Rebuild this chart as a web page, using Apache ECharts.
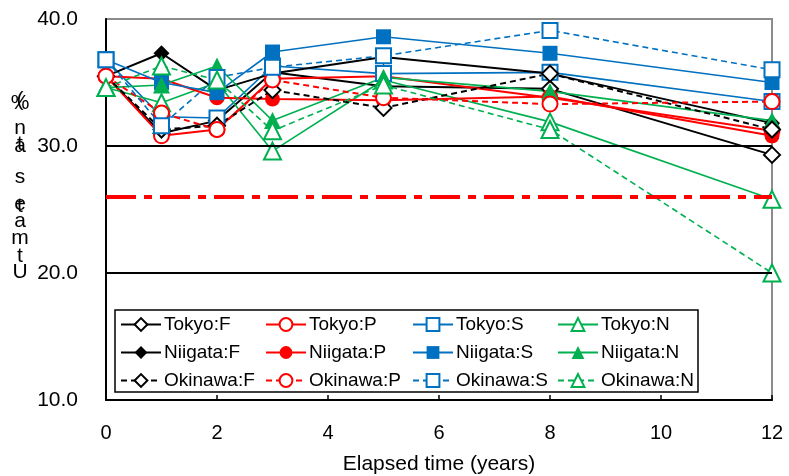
<!DOCTYPE html>
<html>
<head>
<meta charset="utf-8">
<script src="https://cdn.jsdelivr.net/npm/echarts@6/dist/echarts.min.js"></script>
<style>html,body{margin:0;padding:0;background:#fff;}#c{width:789px;height:476px;}</style>
</head>
<body>
<div id="c"></div>
<script>
// ---- data ----
const xYears = [0, 1, 2, 3, 5, 8, 12];
const tokyoF   = [35.5, 31.0, 32.0, 35.8, 34.7, 34.5, 29.3];
const niigataF = [35.5, 37.3, 34.4, 35.7, 37.0, 35.7, 31.8];
const okinawaF = [35.5, 31.3, 31.6, 34.4, 33.0, 35.7, 31.3];
const tokyoP   = [35.5, 30.8, 31.3, 35.3, 35.5, 33.8, 31.2];
const niigataP = [35.5, 35.3, 33.8, 33.7, 33.6, 33.9, 30.8];
const okinawaP = [35.5, 32.6, 31.3, 35.2, 33.8, 33.3, 33.5];
const tokyoS   = [36.8, 32.3, 32.2, 36.3, 35.7, 35.8, 33.5];
const niigataS = [36.8, 35.0, 34.2, 37.4, 38.6, 37.3, 35.0];
const okinawaS = [36.8, 31.6, 35.4, 36.2, 37.1, 39.1, 36.0];
const tokyoN   = [34.6, 33.4, 35.0, 29.6, 35.2, 31.9, 25.8];
const niigataN = [34.6, 34.8, 36.3, 32.0, 35.4, 34.3, 32.0];
const okinawaN = [34.6, 36.3, 35.2, 31.2, 34.8, 31.3, 20.0];
const refLevel = 26.0;
const gridValues = [20, 30];
const yTicks = [10, 20, 30, 40];
const xTicks = [0, 2, 4, 6, 8, 10, 12];
const xAxisTitle = 'Elapsed time (years)';
const yTitleChars = [['(', 100], ['%', 103], ['n', 128], ['t', 144], ['a', 146], ['s', 177], ['t', 206], ['e', 204], ['a', 221], ['m', 238], ['t', 256], ['U', 272]];

// ---- styling ----
const colors = { F: '#000000', P: '#FF0000', S: '#0070C0', N: '#00B050' };
const symbols = { F: 'diamond', P: 'circle', S: 'rect', N: 'triangle' };
const symSize = { F: 16, P: 15, S: 15, N: 17 };
const widths = { F: 2, P: 2, S: 1.6, N: 1.6 };

const defs = [
  ['Tokyo:F', tokyoF, 'F', 'open'], ['Tokyo:P', tokyoP, 'P', 'open'], ['Tokyo:S', tokyoS, 'S', 'open'], ['Tokyo:N', tokyoN, 'N', 'open'],
  ['Niigata:F', niigataF, 'F', 'fill'], ['Niigata:P', niigataP, 'P', 'fill'], ['Niigata:S', niigataS, 'S', 'fill'], ['Niigata:N', niigataN, 'N', 'fill'],
  ['Okinawa:F', okinawaF, 'F', 'dash'], ['Okinawa:P', okinawaP, 'P', 'dash'], ['Okinawa:S', okinawaS, 'S', 'dash'], ['Okinawa:N', okinawaN, 'N', 'dash']
];

const series = defs.map(([name, vals, k, kind]) => ({
  name, type: 'line',
  data: xYears.map((x, i) => [x, vals[i]]),
  symbol: (kind === 'fill' ? '' : 'empty') + symbols[k],
  symbolSize: symSize[k],
  showAllSymbol: true,
  clip: false,
  color: colors[k],
  itemStyle: { color: colors[k], borderWidth: 2 },
  lineStyle: { color: colors[k], width: widths[k], type: kind === 'dash' ? [6, 4] : 'solid' },
  emphasis: { disabled: true },
  animation: false
}));

// gridlines + reference line drawn through the y scale
series.unshift({
  name: 'refs', type: 'line', data: [], silent: true, animation: false, z: 1,
  markLine: {
    silent: true, symbol: 'none', animation: false, label: { show: false },
    data: gridValues.map(v => ({ yAxis: v, lineStyle: { color: '#000', width: 2, type: 'solid' } }))
  }
});
series.push({
  name: 'ref26', type: 'line', data: [], silent: true, animation: false, z: 5,
  markLine: {
    silent: true, symbol: 'none', animation: false, label: { show: false },
    data: [{ yAxis: refLevel, lineStyle: { color: '#FF0000', width: 4, type: [30, 8, 8, 8] } }]
  }
});

const font = 'Liberation Sans, Arial, sans-serif';
const legendCols = ['F', 'P', 'S', 'N'];
const legendLeft = [120, 265, 412, 557];
const legends = legendCols.map((k, i) => ({
  data: ['Tokyo:' + k, 'Niigata:' + k, 'Okinawa:' + k],
  orient: 'vertical', left: legendLeft[i], top: 315, padding: 0, z: 20,
  itemGap: 9, itemWidth: 40, itemHeight: 16,
  textStyle: { fontFamily: font, fontSize: 19, color: '#000', padding: [0, 0, 0, -2] },
  selectedMode: false
}));

const chart = echarts.init(document.getElementById('c'), null, { renderer: 'canvas' });
chart.setOption({
  animation: false,
  backgroundColor: '#fff',
  grid: { left: 106, right: 17, top: 19, bottom: 76, show: true, borderColor: '#8c8c8c', borderWidth: 2, backgroundColor: 'transparent', containLabel: false, outerBoundsMode: 'none' },
  xAxis: {
    type: 'value', min: xTicks[0], max: xTicks[xTicks.length - 1], interval: 2,
    axisLine: { show: true, onZero: false, lineStyle: { color: '#000', width: 2 } },
    axisTick: { show: true, inside: true, length: 5, lineStyle: { color: '#000', width: 1.5 } },
    splitLine: { show: false },
    axisLabel: { fontFamily: font, fontSize: 20, color: '#000', margin: 23 },
    name: xAxisTitle, nameLocation: 'middle', nameGap: 54,
    nameTextStyle: { fontFamily: font, fontSize: 21, color: '#000' }
  },
  yAxis: {
    type: 'value', min: yTicks[0], max: yTicks[yTicks.length - 1], interval: 10,
    axisLine: { show: true, onZero: false, lineStyle: { color: '#000', width: 2 } },
    axisTick: { show: false },
    splitLine: { show: false },
    axisLabel: { fontFamily: font, fontSize: 21, color: '#000', margin: 28, formatter: v => v.toFixed(1) }
  },
  legend: legends,
  graphic: [
    { type: 'rect', shape: { x: 115, y: 310, width: 583, height: 82 }, style: { fill: '#fff', stroke: '#000', lineWidth: 1.5 }, z: 3 }
  ].concat(yTitleChars.map(([ch, y]) => ({
    type: 'text', x: 20, y: y, z: 10,
    style: { text: ch, fontFamily: font, fontSize: 21, fill: '#000', textAlign: 'center', textVerticalAlign: 'middle' }
  }))),
  series
});
</script>
</body>
</html>
